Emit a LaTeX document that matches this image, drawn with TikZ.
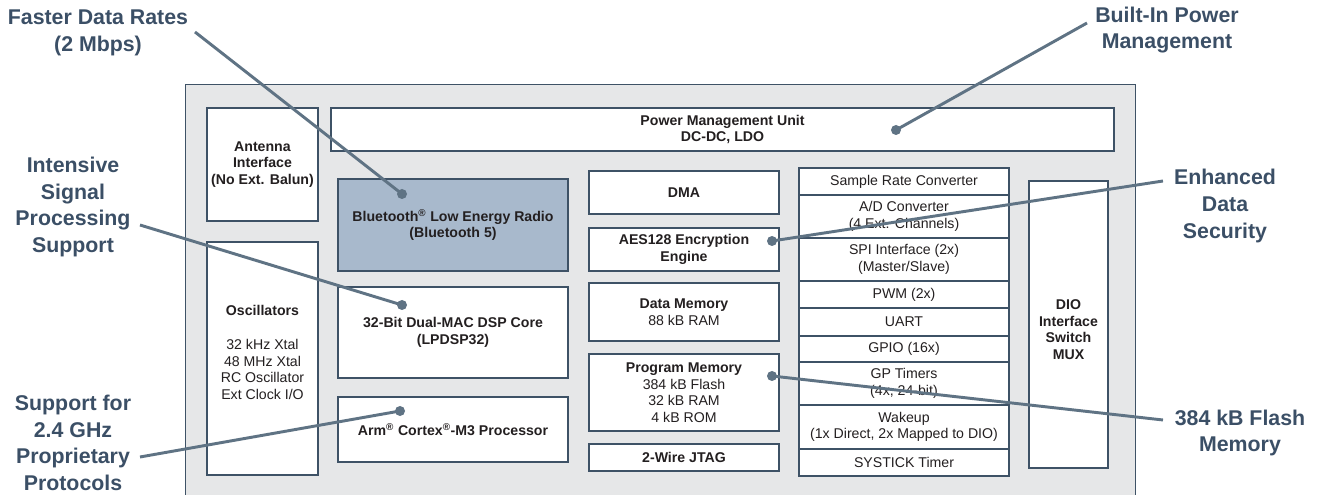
\documentclass[tikz,border=0pt]{standalone}
\usepackage{fontspec}
\setmainfont{Liberation Sans}
\usetikzlibrary{fit}

\definecolor{boxline}{HTML}{3E5266}
\definecolor{boxtext}{HTML}{231F20}
\definecolor{chipfill}{HTML}{E6E7E8}
\definecolor{radiofill}{HTML}{A8B9CC}
\definecolor{calltext}{HTML}{3B4F66}
\definecolor{leadcol}{HTML}{5F7384}

\tikzset{every picture/.style={line width=0.75pt}}
\tikzset{
  blk/.style={draw=boxline, fill=white, line width=1.4pt, inner sep=0pt},
  lbl/.style={align=center, text=boxtext, inner sep=0pt, font=\fontsize{10.6}{12.4}\selectfont},
  callout/.style={align=center, text=calltext, inner sep=0pt,
    font=\fontsize{16}{20}\selectfont\bfseries},
  lead/.style={draw=leadcol, line width=2.2pt},
  pin/.style={circle, fill=leadcol, inner sep=0pt, minimum size=7.5pt}
}

\begin{document}
\begin{tikzpicture}[x=0.75pt,y=0.75pt,yscale=-1,xscale=1]

\useasboundingbox (0,0) rectangle (1318,495);

% chip outline (runs off the bottom)
\node [fill=chipfill, inner sep=0pt, fit={(186,85) (1135,495)}] (chip) {};
\draw [boxline, line width=1.4pt] (chip.south west) |- (chip.north east) -- (chip.south east);

\node [blk, fit={(207,108) (318,221)}] (ant) {};
\node [blk, fit={(331,108) (1114,151)}] (pmu) {};
\node [blk, fill=radiofill, fit={(338,179) (568,271)}] (ble) {};
\node [blk, fit={(207,242) (318,475)}] (osc) {};
\node [blk, fit={(338,287) (568,378)}] (dsp) {};
\node [blk, fit={(338,397) (568,462)}] (arm) {};

\node [blk, fit={(589,171) (779,214)}] (dma) {};
\node [blk, fit={(589,228) (779,271)}] (aes) {};
\node [blk, fit={(589,283) (779,341)}] (dmem) {};
\node [blk, fit={(589,354) (779,431)}] (pmem) {};
\node [blk, fit={(589,444) (779,471)}] (jtag) {};

% peripherals
\node [blk, fit={(799,168) (1009,195)}] (src) {};
\node [blk, fit={(799,195) (1009,238)}] (adc) {};
\node [blk, fit={(799,238) (1009,281)}] (spi) {};
\node [blk, fit={(799,281) (1009,308)}] (pwm) {};
\node [blk, fit={(799,308) (1009,336)}] (uart) {};
\node [blk, fit={(799,336) (1009,362)}] (gpio) {};
\node [blk, fit={(799,362) (1009,405)}] (tmr) {};
\node [blk, fit={(799,405) (1009,449)}] (wake) {};
\node [blk, fit={(799,449) (1009,476)}] (systick) {};

\node [blk, fit={(1029,181) (1108,468)}] (dio) {};

% box texts
\node [lbl] (ant-lbl) at (ant) {\textbf{Antenna}\\\textbf{Interface}\\\textbf{(No Ext. Balun)}};
\node [lbl] (pmu-lbl) at (pmu) {\textbf{Power Management Unit}\\\textbf{DC-DC, LDO}};
\node [lbl] (ble-lbl) at (ble) {\textbf{Bluetooth\textsuperscript{®} Low Energy Radio}\\\textbf{(Bluetooth 5)}};
\node [lbl] (osc-lbl) at ([yshift=-4.5]osc.center) {\textbf{Oscillators}\\[13pt]32 kHz Xtal\\48 MHz Xtal\\RC Oscillator\\Ext Clock I/O};
\node [lbl] (dsp-lbl) at (dsp) {\textbf{32-Bit Dual-MAC DSP Core}\\\textbf{(LPDSP32)}};
\node [lbl] (arm-lbl) at (arm) {\textbf{Arm\textsuperscript{®} Cortex\textsuperscript{®}-M3 Processor}};
\node [lbl] (dma-lbl) at (dma) {\textbf{DMA}};
\node [lbl] (aes-lbl) at (aes) {\textbf{AES128 Encryption}\\\textbf{Engine}};
\node [lbl] (dmem-lbl) at (dmem) {\textbf{Data Memory}\\88 kB RAM};
\node [lbl] (pmem-lbl) at (pmem) {\textbf{Program Memory}\\384 kB Flash\\32 kB RAM\\4 kB ROM};
\node [lbl] (jtag-lbl) at (jtag) {\textbf{2-Wire JTAG}};
\node [lbl] (src-lbl) at (src) {Sample Rate Converter};
\node [lbl] (adc-lbl) at (adc) {A/D Converter\\(4 Ext. Channels)};
\node [lbl] (spi-lbl) at (spi) {SPI Interface (2x)\\(Master/Slave)};
\node [lbl] (pwm-lbl) at (pwm) {PWM (2x)};
\node [lbl] (uart-lbl) at (uart) {UART};
\node [lbl] (gpio-lbl) at (gpio) {GPIO (16x)};
\node [lbl] (tmr-lbl) at (tmr) {GP Timers\\(4x, 24-bit)};
\node [lbl] (wake-lbl) at (wake) {Wakeup\\(1x Direct, 2x Mapped to DIO)};
\node [lbl] (systick-lbl) at (systick) {SYSTICK Timer};
\node [lbl] (dio-lbl) at ([yshift=4]dio.center) {\textbf{DIO}\\\textbf{Interface}\\\textbf{Switch}\\\textbf{MUX}};

% callouts
\node [callout] (rates) at (98,33) {Faster Data Rates\\(2 Mbps)};
\node [callout] (power) at (1167,30) {Built-In Power\\Management};
\node [callout] (signal) at (73,207) {Intensive\\Signal\\Processing\\Support};
\node [callout] (proto) at (73,443) {Support for\\2.4 GHz\\Proprietary\\Protocols};
\node [callout] (secur) at (1225,206) {Enhanced\\Data\\Security};
\node [callout] (flash) at (1240,433) {384 kB Flash\\Memory};

\coordinate (rates-e) at (195,32);
\coordinate (power-w) at (1087,23);
\coordinate (signal-e) at (140,225);
\coordinate (proto-e) at (140,457);
\coordinate (secur-w) at (1163,181);
\coordinate (flash-w) at (1163,420);

\node [pin] (ble-pin) at (402,194) {};
\node [pin] (pmu-pin) at (896,130) {};
\node [pin] (dsp-pin) at (402,305) {};
\node [pin] (arm-pin) at (400,411) {};
\node [pin] (aes-pin) at (772,241) {};
\node [pin] (pmem-pin) at (772,376) {};

\draw [lead] (rates-e) -- (ble-pin.center);
\draw [lead] (power-w) -- (pmu-pin.center);
\draw [lead] (signal-e) -- (dsp-pin.center);
\draw [lead] (proto-e) -- (arm-pin.center);
\draw [lead] (secur-w) -- (aes-pin.center);
\draw [lead] (flash-w) -- (pmem-pin.center);

\end{tikzpicture}
\end{document}
